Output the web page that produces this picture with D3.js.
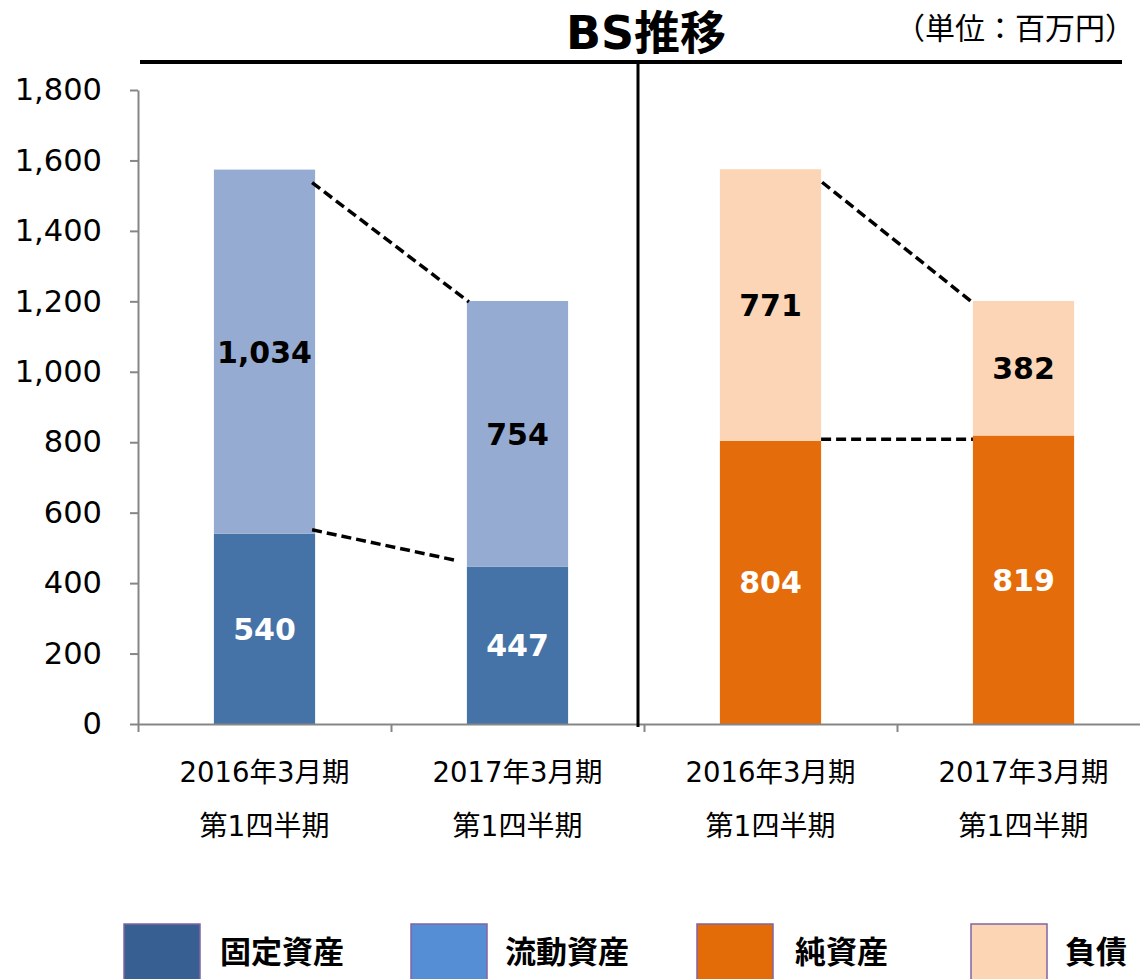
<!DOCTYPE html>
<html>
<head>
<meta charset="utf-8">
<script src="https://cdn.jsdelivr.net/npm/d3@7"></script>
<style>
  html, body { margin: 0; padding: 0; background: #fff; }
  svg { display: block; }
  text { font-family: "DejaVu Sans", Verdana, "Noto Sans CJK JP", sans-serif; }
  .cjk { font-family: "DejaVu Sans", "Noto Sans CJK JP", sans-serif; }
</style>
</head>
<body>
<svg id="chart" width="1140" height="979"></svg>
<script>
// ---- data ----
const title = "BS推移";
const unitLabel = "（単位：百万円）";
const periods = ["2016年3月期", "2017年3月期", "2016年3月期", "2017年3月期"];
const quarterLabel = "第1四半期";
const slots = ["assets-2016", "assets-2017", "equity-2016", "equity-2017"];
const yTicks = [0, 200, 400, 600, 800, 1000, 1200, 1400, 1600, 1800];

const fixedAssets = [540, 447];     // 固定資産
const currentAssets = [1034, 754];  // 流動資産
const netAssets = [804, 819];       // 純資産
const liabilities = [771, 382];     // 負債

const legendNames = ["固定資産", "流動資産", "純資産", "負債"];

// ---- styles ----
const barColors = { fixed: "#4673A7", current: "#95ABD1", net: "#E46C0A", liab: "#FBD5B6" };
const legendColors = ["#375F91", "#558ED5", "#E36C09", "#FCD5B5"];

const svg = d3.select("#chart");
const axisColor = "#868686";

const x = d3.scaleBand().domain(slots).range([138, 1150]).paddingInner(0.6).paddingOuter(0.3);
const y = d3.scaleLinear().domain([0, 1800]).range([724, 90]);
const bw = x.bandwidth();

// stacked data
const stacks = [
  { slot: slots[0], segs: [{ v0: 0, v1: fixedAssets[0], c: barColors.fixed, lc: "#fff" }, { v0: fixedAssets[0], v1: fixedAssets[0] + currentAssets[0], c: barColors.current, lc: "#000" }] },
  { slot: slots[1], segs: [{ v0: 0, v1: fixedAssets[1], c: barColors.fixed, lc: "#fff" }, { v0: fixedAssets[1], v1: fixedAssets[1] + currentAssets[1], c: barColors.current, lc: "#000" }] },
  { slot: slots[2], segs: [{ v0: 0, v1: netAssets[0], c: barColors.net, lc: "#fff" }, { v0: netAssets[0], v1: netAssets[0] + liabilities[0], c: barColors.liab, lc: "#000" }] },
  { slot: slots[3], segs: [{ v0: 0, v1: netAssets[1], c: barColors.net, lc: "#fff" }, { v0: netAssets[1], v1: netAssets[1] + liabilities[1], c: barColors.liab, lc: "#000" }] }
];

// bars
const g = svg.append("g");
stacks.forEach(s => {
  g.selectAll(null).data(s.segs).enter().append("rect")
    .attr("x", x(s.slot)).attr("width", bw)
    .attr("y", d => y(d.v1)).attr("height", d => y(d.v0) - y(d.v1))
    .attr("fill", d => d.c);
});

// y axis
const yAxis = d3.axisLeft(y).tickValues(yTicks).tickSize(8).tickSizeOuter(0).tickPadding(28)
  .tickFormat(d3.format(","));
const ya = svg.append("g").attr("transform", "translate(138,0)").call(yAxis);
ya.select(".domain").attr("stroke", axisColor).attr("stroke-width", 2);
ya.selectAll(".tick line").attr("stroke", axisColor).attr("stroke-width", 2);
ya.selectAll(".tick text").attr("font-size", 30.5).attr("fill", "#000")
  .attr("font-family", "'DejaVu Sans', Verdana, sans-serif");

// x axis (ticks at band boundaries)
const xb = d3.scaleLinear().domain([0, slots.length]).range([138, 138 + x.step() * slots.length]);
const xAxis = d3.axisBottom(xb).tickValues(d3.range(0, slots.length + 1)).tickSize(8).tickSizeOuter(0).tickFormat("");
const xa = svg.append("g").attr("transform", "translate(0,724)").call(xAxis);
xa.select(".domain").attr("stroke", axisColor).attr("stroke-width", 2);
xa.selectAll(".tick line").attr("stroke", axisColor).attr("stroke-width", 2);

// category labels
const catG = svg.append("g");
slots.forEach((s, i) => {
  const cx = x(s) + bw / 2;
  catG.append("text").attr("class", "cjk").attr("x", cx).attr("y", 782).attr("text-anchor", "middle")
    .attr("font-size", 27.5).attr("fill", "#000").text(periods[i]);
  catG.append("text").attr("class", "cjk").attr("x", cx).attr("y", 836).attr("text-anchor", "middle")
    .attr("font-size", 28).attr("fill", "#000").text(quarterLabel);
});

// value labels
stacks.forEach(s => {
  svg.selectAll(null).data(s.segs).enter().append("text")
    .attr("x", x(s.slot) + bw / 2)
    .attr("y", d => y((d.v0 + d.v1) / 2))
    .attr("dy", "0.36em")
    .attr("text-anchor", "middle")
    .attr("font-size", 30).attr("font-weight", "bold")
    .attr("fill", d => d.lc)
    .text(d => d3.format(",")(d.v1 - d.v0));
});

// dashed connectors
const dash = svg.append("g").attr("stroke", "#000").attr("stroke-width", 3.5)
  .attr("stroke-dasharray", "10,5").attr("fill", "none");
const tot = stacks.map(s => s.segs[1].v1);
const connectors = [
  [x(slots[0]) + bw - 3, y(tot[0]) + 13, x(slots[1]) + 2, y(tot[1]) + 1],
  [x(slots[0]) + bw - 3, y(fixedAssets[0]) - 4, x(slots[1]) - 10, y(fixedAssets[1]) - 6],
  [x(slots[2]) + bw + 1, y(tot[2]) + 13, x(slots[3]) - 1, y(tot[3]) + 1],
  [x(slots[2]) + bw, (y(netAssets[0]) + y(netAssets[1])) / 2 + 1, x(slots[3]), (y(netAssets[0]) + y(netAssets[1])) / 2 + 1]
];
connectors.forEach(c => dash.append("line").attr("x1", c[0]).attr("y1", c[1]).attr("x2", c[2]).attr("y2", c[3]));

// divider and title rule
const divX = (x(slots[1]) + bw + x(slots[2])) / 2 - 6;
svg.append("line").attr("x1", 140).attr("x2", 1122).attr("y1", 62).attr("y2", 62)
  .attr("stroke", "#000").attr("stroke-width", 4);
svg.append("line").attr("x1", divX).attr("x2", divX).attr("y1", 62).attr("y2", 727)
  .attr("stroke", "#000").attr("stroke-width", 3);

// title + unit
svg.append("text").attr("class", "cjk").attr("x", 646).attr("y", 49).attr("text-anchor", "middle")
  .attr("font-size", 46).attr("font-weight", "bold").attr("fill", "#000").text(title);
svg.append("text").attr("class", "cjk").attr("x", 1015).attr("y", 39).attr("text-anchor", "middle")
  .attr("font-size", 30).attr("fill", "#000").text(unitLabel);

// legend
const legendBoxX = [124, 411, 697, 971];
const legendTextX = [220, 505, 795, 1065];
const lg = svg.append("g");
legendNames.forEach((n, i) => {
  lg.append("rect").attr("x", legendBoxX[i]).attr("y", 924).attr("width", 76).attr("height", 70)
    .attr("fill", legendColors[i]).attr("stroke", "#8064A2").attr("stroke-width", 1.5);
  lg.append("text").attr("class", "cjk").attr("x", legendTextX[i]).attr("y", 963)
    .attr("font-size", 31).attr("font-weight", "bold").attr("fill", "#000").text(n);
});
</script>
</body>
</html>
